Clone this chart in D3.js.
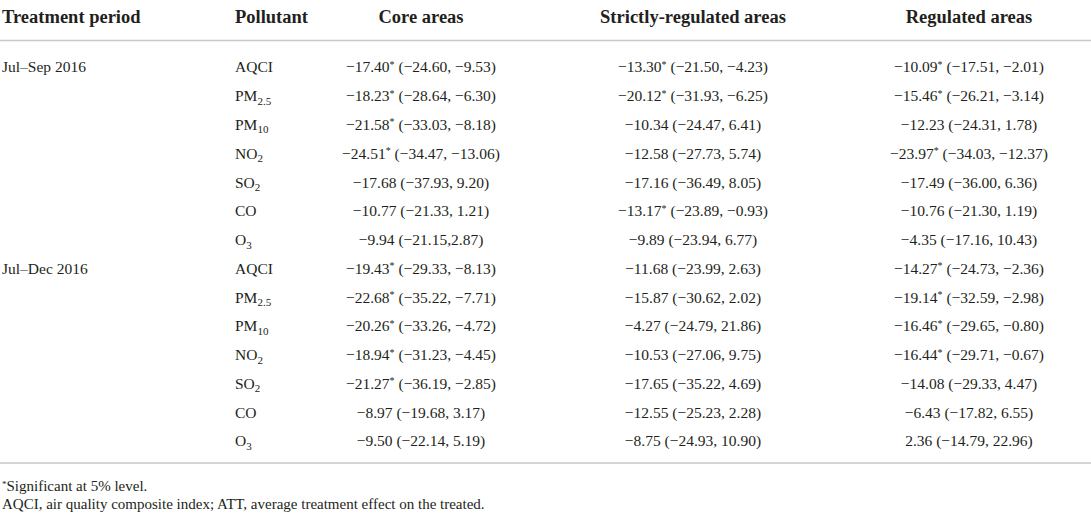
<!DOCTYPE html>
<html>
<head>
<meta charset="utf-8">
<script src="https://cdnjs.cloudflare.com/ajax/libs/d3/7.8.5/d3.min.js"></script>
<style>
  body { margin: 0; background: #fff; }
  svg { display: block; }
  text { font-family: "Liberation Serif", "DejaVu Serif", serif; fill: #231f20; }
</style>
</head>
<body>
<div class="container"></div>
<script>
var w = 1091,
    h = 513;

// table content
var headers = ["Treatment period", "Pollutant", "Core areas", "Strictly-regulated areas", "Regulated areas"];
var periods = ["Jul\u2013Sep 2016", "Jul\u2013Dec 2016"];
var pollutants = ["AQCI", "PM", "PM", "NO", "SO", "CO", "O"];
var pollutantSubs = ["", "2.5", "10", "2", "2", "", "3"];
var areas = ["core", "strict", "reg"];

// ATT estimates, rows = period x pollutant (14 rows)
var coreAtt   = [-17.40, -18.23, -21.58, -24.51, -17.68, -10.77, -9.94, -19.43, -22.68, -20.26, -18.94, -21.27, -8.97, -9.50];
var coreLo    = [-24.60, -28.64, -33.03, -34.47, -37.93, -21.33, -21.15, -29.33, -35.22, -33.26, -31.23, -36.19, -19.68, -22.14];
var coreHi    = [-9.53, -6.30, -8.18, -13.06, 9.20, 1.21, 2.87, -8.13, -7.71, -4.72, -4.45, -2.85, 3.17, 5.19];
var coreSig   = [1, 1, 1, 1, 0, 0, 0, 1, 1, 1, 1, 1, 0, 0];

var strictAtt = [-13.30, -20.12, -10.34, -12.58, -17.16, -13.17, -9.89, -11.68, -15.87, -4.27, -10.53, -17.65, -12.55, -8.75];
var strictLo  = [-21.50, -31.93, -24.47, -27.73, -36.49, -23.89, -23.94, -23.99, -30.62, -24.79, -27.06, -35.22, -25.23, -24.93];
var strictHi  = [-4.23, -6.25, 6.41, 5.74, 8.05, -0.93, 6.77, 2.63, 2.02, 21.86, 9.75, 4.69, 2.28, 10.90];
var strictSig = [1, 1, 0, 0, 0, 1, 0, 0, 0, 0, 0, 0, 0, 0];

var regAtt    = [-10.09, -15.46, -12.23, -23.97, -17.49, -10.76, -4.35, -14.27, -19.14, -16.46, -16.44, -14.08, -6.43, 2.36];
var regLo     = [-17.51, -26.21, -24.31, -34.03, -36.00, -21.30, -17.16, -24.73, -32.59, -29.65, -29.71, -29.33, -17.82, -14.79];
var regHi     = [-2.01, -3.14, 1.78, -12.37, 6.36, 1.19, 10.43, -2.36, -2.98, -0.80, -0.67, 4.47, 6.55, 22.96];
var regSig    = [1, 1, 0, 1, 0, 0, 0, 1, 1, 1, 1, 0, 0, 0];

// the source prints "(-21.15,2.87)" without a space for this one cell
var tightCells = ["core-6"];

var footnotes = ["Significant at 5% level.", "AQCI, air quality composite index; ATT, average treatment effect on the treated."];

var cols = {
  core:   {att: coreAtt, lo: coreLo, hi: coreHi, sig: coreSig},
  strict: {att: strictAtt, lo: strictLo, hi: strictHi, sig: strictSig},
  reg:    {att: regAtt, lo: regLo, hi: regHi, sig: regSig}
};

var fmt = d3.format(".2f");
function num(v) { return fmt(v).replace("-", "\u2212"); }

var rows = [];
periods.forEach(function(p, pi) {
  pollutants.forEach(function(pol, qi) {
    rows.push({period: qi === 0 ? p : "", pol: pol, sub: pollutantSubs[qi], i: pi * pollutants.length + qi});
  });
});

var Graphic = d3.select('.container')
  .append('svg')
  .attr('width', w)
  .attr('height', h);

// column anchors
var colX = d3.scaleOrdinal()
  .domain(headers)
  .range([2, 235, 421, 693, 969]);
var colAnchor = ["start", "start", "middle", "middle", "middle"];

// row centres
var yRow = d3.scalePoint()
  .domain(d3.range(rows.length))
  .range([67, 441]);

// header
Graphic.selectAll('.hdr')
  .data(headers)
  .enter()
  .append('text')
  .attr('class', 'hdr')
  .attr('x', function(d) { return colX(d); })
  .attr('y', 17)
  .attr('dy', '0.35em')
  .attr('text-anchor', function(d, i) { return colAnchor[i]; })
  .style('font-size', '18.5px')
  .style('font-weight', 'bold')
  .text(function(d) { return d; });

// rules
Graphic.append('line')
  .attr('x1', 0).attr('x2', w)
  .attr('y1', 40.5).attr('y2', 40.5)
  .style('stroke', '#c8c8c8')
  .style('stroke-width', 1.5);

Graphic.append('line')
  .attr('x1', 0).attr('x2', w)
  .attr('y1', 463).attr('y2', 463)
  .style('stroke', '#c8c8c8')
  .style('stroke-width', 1.5);

var bodySize = '15.5px';

var rowG = Graphic.selectAll('.row')
  .data(rows)
  .enter()
  .append('g')
  .attr('class', 'row')
  .attr('transform', function(d, i) { return 'translate(0,' + yRow(i) + ')'; });

// period
rowG.append('text')
  .attr('x', colX(headers[0]))
  .attr('dy', '0.35em')
  .style('font-size', bodySize)
  .text(function(d) { return d.period; });

// pollutant with subscript
var polText = rowG.append('text')
  .attr('x', colX(headers[1]))
  .attr('dy', '0.35em')
  .style('font-size', bodySize);
polText.append('tspan').text(function(d) { return d.pol; });
polText.append('tspan')
  .attr('dy', 3.5)
  .style('font-size', '11px')
  .text(function(d) { return d.sub; });

// estimate cells
areas.forEach(function(a, ai) {
  var c = cols[a];
  var t = rowG.append('text')
    .attr('x', colX(headers[ai + 2]))
    .attr('dy', '0.35em')
    .attr('text-anchor', 'middle')
    .style('font-size', bodySize);
  t.append('tspan').text(function(d) { return num(c.att[d.i]); });
  t.append('tspan')
    .attr('dy', function(d) { return c.sig[d.i] ? -4.5 : 0; })
    .style('font-size', '10px')
    .text(function(d) { return c.sig[d.i] ? '*' : ''; });
  t.append('tspan')
    .attr('dy', function(d) { return c.sig[d.i] ? 4.5 : 0; })
    .text(function(d) {
      var sep = tightCells.indexOf(a + '-' + d.i) >= 0 ? ',' : ', ';
      return ' (' + num(c.lo[d.i]) + sep + num(c.hi[d.i]) + ')';
    });
});

// footnotes
var fn1 = Graphic.append('text')
  .attr('x', 2)
  .attr('y', 491)
  .style('font-size', '15px');
fn1.append('tspan')
  .attr('dy', -4)
  .style('font-size', '9px')
  .text('*');
fn1.append('tspan')
  .attr('dy', 4)
  .text(footnotes[0]);

Graphic.append('text')
  .attr('x', 2)
  .attr('y', 509)
  .style('font-size', '15px')
  .text(footnotes[1]);
</script>
</body>
</html>
